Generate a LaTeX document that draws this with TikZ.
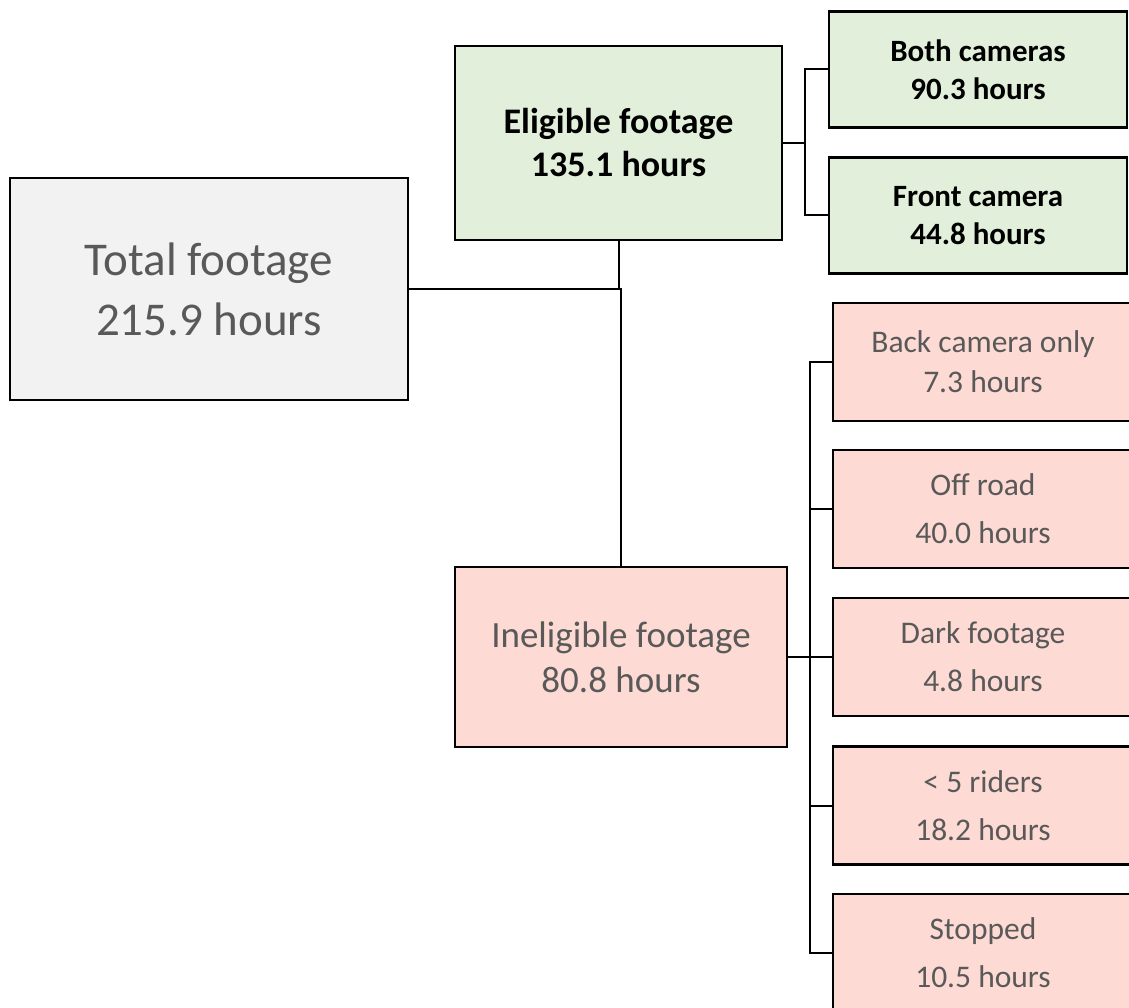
\documentclass[tikz,border=0pt]{standalone}
\usepackage{fontspec}
\setmainfont{Carlito}
\definecolor{greenfill}{HTML}{E2EFDA}
\definecolor{pinkfill}{HTML}{FDDAD3}
\definecolor{grayfill}{HTML}{F2F2F2}
\definecolor{txtgray}{HTML}{595959}
\tikzset{
  box/.style={draw=black, line width=2.2pt, rectangle, inner sep=0pt, align=center},
  totalbox/.style={box, fill=grayfill, text=txtgray, minimum width=398pt, minimum height=222pt, font=\fontsize{47}{60}\selectfont},
  eligbox/.style={box, fill=greenfill, text=black, minimum width=327pt, minimum height=194pt, font=\bfseries\fontsize{36}{43}\selectfont},
  inelbox/.style={box, fill=pinkfill, text=txtgray, minimum width=332pt, minimum height=180pt, font=\fontsize{37}{45}\selectfont},
  greenbox/.style={box, fill=greenfill, text=black, minimum width=298pt, minimum height=116pt, font=\bfseries\fontsize{31}{38}\selectfont},
  pinkbox/.style={box, fill=pinkfill, text=txtgray, minimum width=300pt, minimum height=118pt, font=\fontsize{31.5}{48}\selectfont},
  conn/.style={draw=black, line width=2pt}
}
\begin{document}
\begin{tikzpicture}[x=1pt,y=-1pt]
\useasboundingbox (0,0) rectangle (1129,1008);
\begin{scope}
\clip (0,0) rectangle (1129,1008);
% nodes
\node[totalbox] (tot) at (209,289) {Total footage\\215.9 hours};
\node[eligbox] (elig) at (618.5,143) {Eligible footage\\135.1 hours};
\node[inelbox] (inel) at (621,657) {Ineligible footage\\80.8 hours};
\node[greenbox] (both) at (978,69.5) {Both cameras\\90.3 hours};
\node[greenbox] (front) at (978,215.5) {Front camera\\44.8 hours};
\node[pinkbox, font=\fontsize{31.5}{40}\selectfont] (back) at (983,362) {Back camera only\\7.3 hours};
\node[pinkbox] (off) at (983,509) {Off road\\40.0 hours};
\node[pinkbox] (dark) at (983,657) {Dark footage\\4.8 hours};
\node[pinkbox] (few) at (983,805.5) {\textless{} 5 riders\\18.2 hours};
\node[pinkbox] (stop) at (983,953) {Stopped\\10.5 hours};
% junctions
\coordinate (ej) at (805,143);
\coordinate (ij) at (810,657);
% connectors
\draw[conn] (tot.east) -| (elig.south);
\draw[conn] (tot.east) -| (inel.north);
\draw[conn] (elig.east) -- (ej);
\draw[conn] (ej) |- (both.west);
\draw[conn] (ej) |- (front.west);
\draw[conn] (inel.east) -- (ij);
\draw[conn] (ij) |- (back.west);
\draw[conn] (ij) |- (off.west);
\draw[conn] (ij) -- (dark.west);
\draw[conn] (ij) |- (few.west);
\draw[conn] (ij) |- (stop.west);
\end{scope}
\end{tikzpicture}
\end{document}
